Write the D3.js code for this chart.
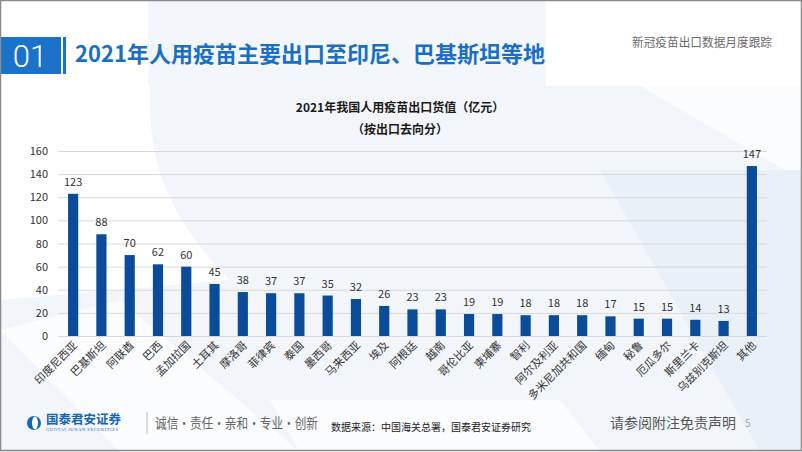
<!DOCTYPE html>
<html>
<head>
<meta charset="utf-8">
<script src="https://cdnjs.cloudflare.com/ajax/libs/d3/7.8.5/d3.min.js"></script>
<style>
    html, body { margin: 0; padding: 0; background: #fff; }
    svg { display: block; font-family: "Noto Sans CJK SC", "Noto Sans", sans-serif; }
</style>
</head>
<body>
<svg id="chart" width="802" height="452"></svg>
<script>
// chart data
const categories = ['印度尼西亚', '巴基斯坦', '阿联酋', '巴西', '孟加拉国', '土耳其', '摩洛哥', '菲律宾', '泰国',
    '墨西哥', '马来西亚', '埃及', '阿根廷', '越南', '哥伦比亚', '柬埔寨', '智利', '阿尔及利亚', '多米尼加共和国',
    '缅甸', '秘鲁', '厄瓜多尔', '斯里兰卡', '乌兹别克斯坦', '其他'];
const values = [123, 88, 70, 62, 60, 45, 38, 37, 37, 35, 32, 26, 23, 23, 19, 19, 18, 18, 18, 17, 15, 15, 14, 13, 147];
const yTicks = [0, 20, 40, 60, 80, 100, 120, 140, 160];
const footerMotto = '诚信·责任·亲和·专业·创新';

const svg = d3.select('#chart');
const W = 802;
const H = 452;

/**
 * BACKGROUND
 * */
const bg = svg.append('g');
bg.append('rect').attr('width', W).attr('height', H).attr('fill', '#f2f6fa');
// white top area and left-top swoosh
bg.append('rect').attr('x', 0).attr('y', 0).attr('width', W).attr('height', 86).attr('fill', '#fff');
bg.append('rect').attr('x', 148).attr('y', 0).attr('width', 398).attr('height', 86).attr('fill', '#f3f7fb');
bg.append('path')
    .attr('d', 'M0,86 L150,86 C148,150 160,210 230,280 L0,300 Z')
    .attr('fill', '#fff');
bg.append('path')
    .attr('d', 'M546,86 L802,86 L802,180 L640,86 Z')
    .attr('fill', '#fbfcfe');
// diagonal pale bands
bg.append('path')
    .attr('d', 'M0,330 L120,300 L300,452 L120,452 Z')
    .attr('fill', '#fafcfe');
bg.append('path')
    .attr('d', 'M600,170 L802,170 L802,452 L760,452 Z')
    .attr('fill', '#e9f0f7');
bg.append('path')
    .attr('d', 'M270,400 L560,400 L600,452 L300,452 Z')
    .attr('fill', '#fafcfe');

/**
 * HEADER
 * */
const header = svg.append('g');
header.append('rect').attr('x', 0).attr('y', 37).attr('width', 61).attr('height', 37).attr('fill', '#1a73c8');
header.append('rect').attr('x', 63).attr('y', 37).attr('width', 3).attr('height', 37).attr('fill', '#1a73c8');
header.append('text')
    .attr('x', 30).attr('y', 67)
    .attr('text-anchor', 'middle')
    .attr('fill', '#fff')
    .attr('font-family', 'Roboto, "Open Sans", sans-serif')
    .attr('font-weight', 300)
    .attr('font-size', 31)
    .text('01');
header.append('text')
    .attr('x', 75).attr('y', 62)
    .attr('fill', '#1a6fc4')
    .attr('font-weight', 'bold')
    .attr('font-size', 22)
    .attr('textLength', 470)
    .attr('lengthAdjust', 'spacingAndGlyphs')
    .text('2021年人用疫苗主要出口至印尼、巴基斯坦等地');
header.append('text')
    .attr('x', 772).attr('y', 47)
    .attr('text-anchor', 'end')
    .attr('fill', '#6b6b6b')
    .attr('font-size', 12)
    .attr('textLength', 140)
    .attr('lengthAdjust', 'spacingAndGlyphs')
    .text('新冠疫苗出口数据月度跟踪');

/**
 * CHART
 * */
const plot = {left: 59, right: 766, top: 151, bottom: 336};

const xFun = d3.scaleBand()
    .domain(categories)
    .range([plot.left, plot.right])
    .padding(0);

const yFun = d3.scaleLinear()
    .domain([0, 160])
    .range([plot.bottom, plot.top]);

const barWidth = xFun.bandwidth() * 0.36;

const chart = svg.append('g');

chart.append('text')
    .attr('x', 400).attr('y', 112)
    .attr('text-anchor', 'middle')
    .attr('font-weight', 'bold')
    .attr('font-size', 12)
    .attr('fill', '#1a1a1a')
    .text('2021年我国人用疫苗出口货值（亿元）');
chart.append('text')
    .attr('x', 400).attr('y', 134)
    .attr('text-anchor', 'middle')
    .attr('font-weight', 'bold')
    .attr('font-size', 12)
    .attr('fill', '#1a1a1a')
    .text('（按出口去向分）');

// grid lines + y axis
const yAxis = d3.axisLeft(yFun)
    .tickValues(yTicks)
    .tickSize(-(plot.right - plot.left + 2))
    .tickPadding(10);

const yAxisContainer = chart.append('g')
    .attr('transform', `translate(${plot.left - 1}, 0)`)
    .call(yAxis);
yAxisContainer.select('.domain').remove();
yAxisContainer.selectAll('.tick line').attr('stroke', '#d9d9d9').attr('stroke-width', 1);
yAxisContainer.selectAll('.tick text')
    .attr('fill', '#333')
    .attr('font-size', 11)
    .attr('font-family', '"Noto Sans CJK SC", sans-serif');

// bars
chart.append('g')
    .selectAll('rect')
    .data(values)
    .join('rect')
    .attr('x', (d, i) => xFun(categories[i]) + (xFun.bandwidth() - barWidth) / 2)
    .attr('y', d => yFun(d))
    .attr('width', barWidth)
    .attr('height', d => yFun(0) - yFun(d))
    .attr('fill', '#0a4c9a');

// value labels
chart.append('g')
    .selectAll('text')
    .data(values)
    .join('text')
    .attr('x', (d, i) => xFun(categories[i]) + xFun.bandwidth() / 2)
    .attr('y', d => yFun(d) - 8)
    .attr('text-anchor', 'middle')
    .attr('font-size', 11)
    .attr('fill', '#333')
    .text(d => d);

// category labels, rotated
chart.append('g')
    .selectAll('text')
    .data(categories)
    .join('text')
    .attr('transform', d => `translate(${xFun(d) + xFun.bandwidth() / 2 + 5}, 346) rotate(-45)`)
    .attr('text-anchor', 'end')
    .attr('font-size', 11)
    .attr('fill', '#333')
    .text(d => d);

/**
 * FOOTER
 * */
const footer = svg.append('g');
// logo mark
footer.append('circle').attr('cx', 34).attr('cy', 423).attr('r', 7).attr('fill', '#1565b8');
footer.append('ellipse').attr('cx', 35).attr('cy', 423).attr('rx', 3).attr('ry', 6.5).attr('fill', '#fff');
footer.append('text')
    .attr('x', 46).attr('y', 424)
    .attr('fill', '#1565b8')
    .attr('font-weight', 'bold')
    .attr('font-size', 12.5)
    .text('国泰君安证券');
footer.append('text')
    .attr('x', 46).attr('y', 431)
    .attr('fill', '#1565b8')
    .attr('font-family', '"Liberation Serif", serif')
    .attr('font-size', 4.5)
    .attr('textLength', 72)
    .text('GUOTAI JUNAN SECURITIES');
footer.append('line')
    .attr('x1', 147).attr('x2', 147).attr('y1', 412).attr('y2', 434)
    .attr('stroke', '#bbb');
footer.append('text')
    .attr('x', 155).attr('y', 428)
    .attr('fill', '#666')
    .attr('font-size', 14)
    .attr('textLength', 163)
    .attr('lengthAdjust', 'spacingAndGlyphs')
    .text(footerMotto);
footer.append('text')
    .attr('x', 331).attr('y', 431)
    .attr('fill', '#222')
    .attr('font-size', 10)
    .text('数据来源：中国海关总署，国泰君安证券研究');
footer.append('text')
    .attr('x', 610).attr('y', 428)
    .attr('fill', '#555')
    .attr('font-size', 14)
    .text('请参阅附注免责声明');
footer.append('text')
    .attr('x', 745).attr('y', 427)
    .attr('fill', '#aaa')
    .attr('font-size', 10)
    .text('5');

// outer frame
svg.append('rect')
    .attr('x', 0.5).attr('y', 0.5)
    .attr('width', W - 1).attr('height', H - 2)
    .attr('fill', 'none')
    .attr('stroke', '#8a8a8a')
    .attr('stroke-width', 1.5);
</script>
</body>
</html>
